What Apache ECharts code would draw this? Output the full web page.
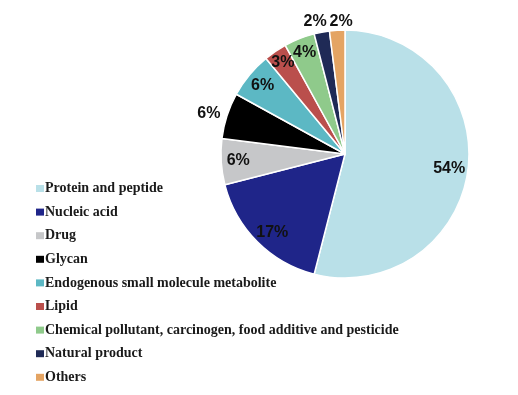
<!DOCTYPE html>
<html>
<head>
<meta charset="utf-8">
<script src="https://cdn.jsdelivr.net/npm/echarts@6/dist/echarts.min.js"></script>
<style>html,body{margin:0;padding:0;background:#fff;}#c{width:518px;height:395px;}</style>
</head>
<body>
<div id="c"></div>
<script>
var categories = ['Protein and peptide','Nucleic acid','Drug','Glycan','Endogenous small molecule metabolite','Lipid','Chemical pollutant, carcinogen, food additive and pesticide','Natural product','Others'];
var values = [54, 17, 6, 6, 6, 3, 4, 2, 2];
var colors = ['#B9E0E8','#1F2589','#C6C7C9','#000000','#5CB8C4','#BA4F4C','#8FCA8B','#1F2A56','#E4A463'];
var outsideLabels = [false, false, false, true, false, false, false, true, true];
var outsideLen = [0, 0, 0, 7, 0, 0, 0, 11, 9];
var labelNudge = [[-2,1],[3,3],[0,0],[0,0],[0,0],[-2,-3],[-1,-2],[7,0],[16,0]];

var CX = 345, CY = 154, R = 124;

var mainData = categories.map(function(n,i){
  return {name:n, value:values[i], itemStyle:{color:colors[i]}};
});
var labelData = categories.map(function(n,i){
  var d = {name:n, value:values[i]};
  if (outsideLabels[i]) {
    d.label = {position:'outside', distanceToLabelLine:0};
    d.labelLine = {show:false, length:outsideLen[i], length2:0};
  }
  return d;
});

var chart = echarts.init(document.getElementById('c'), null, {renderer:'canvas'});
chart.setOption({
  animation:false,
  backgroundColor:'#ffffff',
  legend:{
    orient:'vertical',
    left:36, top:181.5,
    padding:0,
    data:categories,
    itemWidth:8, itemHeight:7,
    itemGap:9.6,
    icon:'rect',
    symbolKeepAspect:false,
    selectedMode:false,
    itemStyle:{borderWidth:0},
    textStyle:{fontFamily:'Liberation Serif', fontWeight:'bold', fontSize:14, color:'#1a1a1a', lineHeight:14, padding:[0,0,0,-4]}
  },
  series:[
    {
      type:'pie',
      center:[CX,CY], radius:[0,R],
      startAngle:90, clockwise:true,
      silent:true,
      label:{show:false}, labelLine:{show:false},
      itemStyle:{borderColor:'#ffffff', borderWidth:1.5},
      data:mainData
    },
    {
      type:'pie',
      center:[CX,CY], radius:[84,R],
      startAngle:90, clockwise:true,
      silent:true,
      legendHoverLink:false,
      avoidLabelOverlap:false,
      itemStyle:{color:'rgba(0,0,0,0)', borderWidth:0},
      label:{show:true, position:'inside', formatter:'{c}%', fontFamily:'Liberation Sans', fontWeight:'bold', fontSize:16, color:'#111111'},
      labelLine:{show:false},
      labelLayout:function(p){ var n = labelNudge[p.dataIndex]; return {dx:n[0], dy:n[1]}; },
      data:labelData
    }
  ]
});
</script>
</body>
</html>
